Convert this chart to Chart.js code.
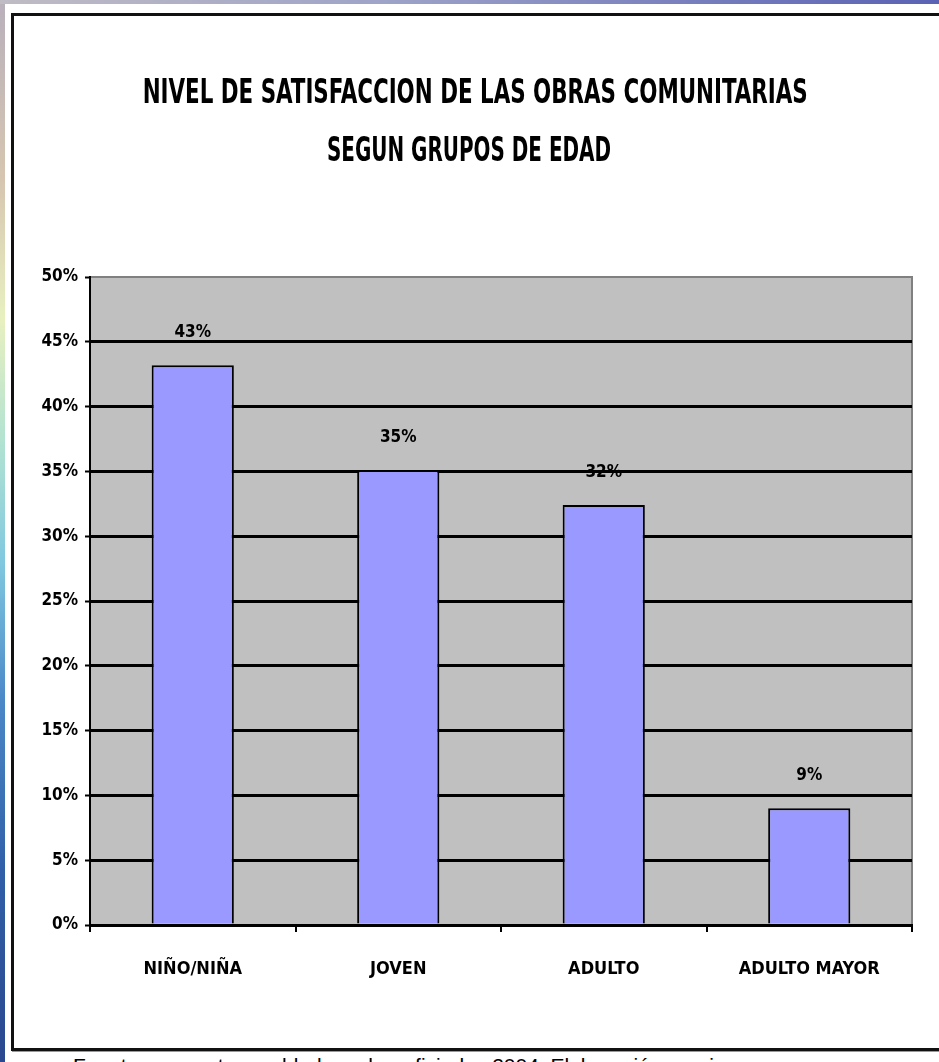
<!DOCTYPE html>
<html lang="es">
<head>
  <meta charset="UTF-8" />
  <title>Nivel de satisfacción de las obras comunitarias</title>
  <style>
    html, body {
      margin: 0;
      padding: 0;
      width: 939px;
      height: 1062px;
      overflow: hidden;
      background: #fff;
      font-family: "Liberation Sans", Arial, sans-serif;
    }
    #stripLeft {
      position: absolute;
      left: 0; top: 0;
      width: 5px; height: 1062px;
      background: linear-gradient(to bottom, #b8b0bc 0%, #d6c6b0 17%, #e8f0c0 30%, #b0e2d2 42%, #80c8e0 53%, #4a88c8 66%, #3060a8 82%, #2a4890 100%);
    }
    #stripTop {
      position: absolute;
      left: 0; top: 0;
      width: 939px; height: 4px;
      background: linear-gradient(to right, #c0bcc4 0%, #9fa4c8 40%, #5a62b4 100%);
    }
    #panel {
      position: absolute;
      left: 11px; top: 13px;
      width: 940px; height: 1032px;
      border: 3px solid #111;
      border-right: none;
      box-shadow: 1px 1px 0 #999;
      background: #fff;
    }
    .title {
      position: absolute;
      left: 0;
      width: 939px;
      text-align: center;
      font-family: "Liberation Sans Narrow", "DejaVu Sans Condensed", sans-serif;
      font-weight: bold;
      font-size: 34px;
      line-height: 34px;
      color: #000;
      white-space: nowrap;
    }
    .title span { display: inline-block; transform-origin: center; }
    #chartBox {
      position: absolute;
      left: 14px; top: 16px;
      width: 925px; height: 1032px;
    }
    #source {
      position: absolute;
      left: 73px; top: 1055px;
      font-size: 21px;
      line-height: 21px;
      color: #000;
      white-space: nowrap;
    }
  </style>
  <script src="https://cdn.jsdelivr.net/npm/chart.js"></script>
</head>
<body>
  <div id="stripLeft"></div>
  <div id="stripTop"></div>
  <div id="panel"></div>

  <div id="chartBox"><canvas id="chart" width="925" height="1032"></canvas></div>

  <div class="title" style="top:74px"><span id="t1">NIVEL DE SATISFACCION DE LAS OBRAS COMUNITARIAS</span></div>
  <div class="title" style="top:132px"><span id="t2">SEGUN GRUPOS DE EDAD</span></div>

  <div id="source">Fuente: encuesta a pobladores beneficiados 2004. Elaboración propia</div>

  <script>
    // datos
    const categories = ['NIÑO/NIÑA', 'JOVEN', 'ADULTO', 'ADULTO MAYOR'];
    const values = [43.2, 35.1, 32.4, 9.0];
    const yTicks = [0, 5, 10, 15, 20, 25, 30, 35, 40, 45, 50];

    const narrow = "'Liberation Sans Narrow', 'DejaVu Sans Condensed', sans-serif";

    // ajustar ancho del titulo (fuente muy condensada)
    function fitTitle(id, target) {
      const el = document.getElementById(id);
      const w = el.getBoundingClientRect().width;
      el.style.transform = 'scaleX(' + (target / w) + ')';
    }
    fitTitle('t1', 665);
    fitTitle('t2', 284);

    // fondo gris del area de trazado + etiquetas de valor (debajo de la grilla)
    const plotBack = {
      id: 'plotBack',
      beforeDraw(chart) {
        const { ctx, chartArea: a } = chart;
        ctx.save();
        ctx.fillStyle = '#c0c0c0';
        ctx.fillRect(a.left, a.top, a.right - a.left, a.bottom - a.top);
        ctx.strokeStyle = '#808080';
        ctx.lineWidth = 2;
        ctx.strokeRect(a.left, a.top, a.right - a.left, a.bottom - a.top);

        ctx.fillStyle = '#000';
        ctx.font = 'bold 17px ' + narrow;
        ctx.textAlign = 'center';
        ctx.textBaseline = 'alphabetic';
        chart.getDatasetMeta(0).data.forEach((bar, i) => {
          ctx.fillText(Math.round(values[i]) + '%', bar.x, bar.y - 28);
        });
        ctx.restore();
      }
    };

    new Chart(document.getElementById('chart'), {
      type: 'bar',
      data: {
        labels: categories,
        datasets: [{
          data: values,
          backgroundColor: '#9999ff',
          borderColor: '#000',
          borderWidth: 2,
          barPercentage: 0.4,
          categoryPercentage: 1.0
        }]
      },
      options: {
        responsive: false,
        animation: false,
        layout: { padding: { left: 0, right: 27, top: 261, bottom: 63 } },
        plugins: {
          legend: { display: false },
          tooltip: { enabled: false },
          title: { display: false }
        },
        scales: {
          y: {
            min: 0,
            max: 50,
            afterBuildTicks(scale) {
              scale.ticks = yTicks.map(v => ({ value: v }));
            },
            afterFit(scale) { scale.width = 76; },
            ticks: {
              callback: v => v + '%',
              color: '#000',
              padding: 7,
              font: { family: narrow, size: 17, weight: 'bold' }
            },
            grid: {
              color: c => (c.tick && c.tick.value === 50) ? 'rgba(0,0,0,0)' : '#000',
              lineWidth: 3,
              tickColor: '#000',
              tickWidth: 2,
              tickLength: 5
            },
            border: { color: '#000', width: 2 }
          },
          x: {
            afterFit(scale) { scale.height = 60; },
            ticks: {
              color: '#000',
              padding: 27,
              maxRotation: 0,
              autoSkip: false,
              font: { family: narrow, size: 18, weight: 'bold' }
            },
            grid: {
              offset: true,
              drawOnChartArea: false,
              color: '#000',
              tickLength: 7,
              lineWidth: 2
            },
            border: { color: '#000', width: 3 }
          }
        }
      },
      plugins: [plotBack]
    });
  </script>
</body>
</html>
